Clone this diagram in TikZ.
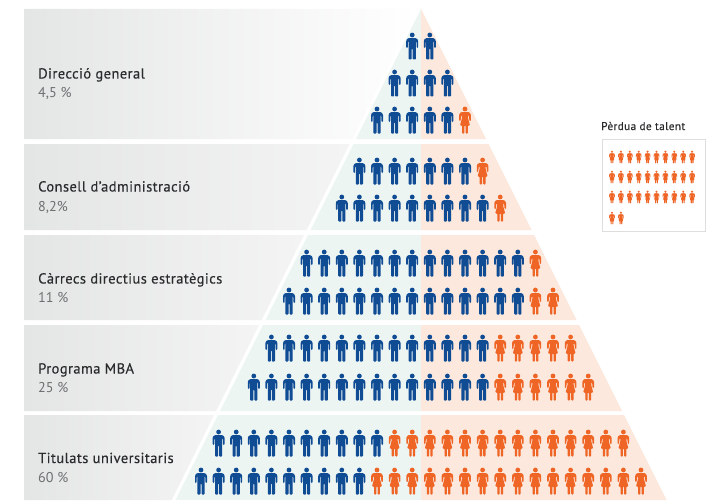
\documentclass[tikz,border=0pt]{standalone}
\usepackage{fontspec}
\setmainfont{PT Sans}
\newfontfamily\titlefont[FakeBold=0.3,LetterSpace=3]{PT Sans}
\newfontfamily\legendfont[FakeBold=0.2,LetterSpace=3.5]{PT Sans}
\definecolor{manblue}{HTML}{0F4C94}
\definecolor{womanor}{HTML}{EE6526}
\definecolor{tealtint}{HTML}{EDF5F3}
\definecolor{ortint}{HTML}{FCE8DC}
\definecolor{bandgrey}{HTML}{E4E5E5}
\definecolor{bandpale}{HTML}{F4F4F4}
\definecolor{pcttext}{HTML}{6E6F71}
\definecolor{titletext}{HTML}{2A2B2D}
\tikzset{
  titlelabel/.style={anchor=base west,inner sep=0pt,font=\titlefont\fontsize{14.5}{16}\selectfont,text=titletext},
  pctlabel/.style={anchor=base west,inner sep=0pt,font=\fontsize{14.2}{16}\selectfont,text=pcttext},
  man/.pic={
    \fill[manblue] (0,-11) circle (2.4);
    \fill[manblue,rounded corners=0.8] (-3.6,-7.8) -- (3.6,-7.8) -- (3.6,13.5) -- (0.5,13.5) -- (0.5,2.5) -- (-0.5,2.5) -- (-0.5,13.5) -- (-3.6,13.5) -- cycle;
    \fill[manblue,rounded corners=1] (-6,-5.8) -- (-4.4,-7.8) -- (4.4,-7.8) -- (6,-5.8) -- (6,2) -- (4.3,2) -- (4.3,-4.5) -- (-4.3,-4.5) -- (-4.3,2) -- (-6,2) -- cycle;
  },
  woman/.pic={
    \fill[womanor] (0,-11) circle (2.4);
    \fill[womanor,rounded corners=0.8] (-3.4,-7.8) -- (3.4,-7.8) -- (3,-2) -- (5,5.5) -- (2.9,5.5) -- (2.9,13.5) -- (0.6,13.5) -- (0.6,5.5) -- (-0.6,5.5) -- (-0.6,13.5) -- (-2.9,13.5) -- (-2.9,5.5) -- (-5,5.5) -- (-3,-2) -- cycle;
    \fill[womanor,rounded corners=0.8] (-5.8,-5.8) -- (-4.2,-7.8) -- (4.2,-7.8) -- (5.8,-5.8) -- (5.8,1) -- (4.4,1) -- (3.9,-4.5) -- (-3.9,-4.5) -- (-4.4,1) -- (-5.8,1) -- cycle;
  },
}
\begin{document}
\begin{tikzpicture}[x=1pt,y=-1pt]
\useasboundingbox (0,0) rectangle (708,500);
\fill[white] (0,0) rectangle (708,500);
% grey bands
\shade[left color=bandgrey,right color=white] (24,9) -- (417,9) -- (352,139) -- (24,139) -- cycle;
\foreach \ya/\yb in {144/230,235/320,325/411,415/500}{
  \pgfmathsetmacro{\xa}{421-0.5*(\ya-9)-4}
  \pgfmathsetmacro{\xb}{421-0.5*(\yb-9)-4}
  \shade[left color=bandgrey,right color=bandpale] (24,\ya) -- (\xa,\ya) -- (\xb,\yb) -- (24,\yb) -- cycle;
}
% pyramid bands
\foreach \ya/\yb in {9/139,144/230,235/320,325/411,415/500}{
  \pgfmathsetmacro{\xa}{0.5*(\ya-9)}
  \pgfmathsetmacro{\xb}{0.5*(\yb-9)}
  \fill[tealtint] (421-\xa,\ya) -- (421,\ya) -- (421,\yb) -- (421-\xb,\yb) -- cycle;
  \fill[ortint] (421+\xa,\ya) -- (421,\ya) -- (421,\yb) -- (421+\xb,\yb) -- cycle;
}
% people: y / first x / blue count / orange count
\foreach \py/\px/\nb/\no in {46/412.2/2/0,83/394.6/4/0,120/377/5/1,171/359.4/7/1,208/341.8/9/1,263/306.6/13/1,301/289/14/2,348/271.4/13/5,387/253.8/14/6,443/218.6/10/14,481/201/10/16}{
  \foreach \i in {1,...,\nb}{
    \pic at ({\px+(\i-1)*17.6},\py) {man};
  }
  \ifnum\no>0
    \foreach \j in {1,...,\no}{
      \pic at ({\px+(\nb+\j-1)*17.6},\py) {woman};
    }
  \fi
}
% labels
\node[titlelabel] (t1) at (38,78.5) {Direcció general};
\node[pctlabel] (p1) at (38,98) {4,5 \%};
\node[titlelabel] (t2) at (38,191.5) {Consell d’administració};
\node[pctlabel] (p2) at (38,211) {8,2\%};
\node[titlelabel] (t3) at (38,283.5) {Càrrecs directius estratègics};
\node[pctlabel] (p3) at (38,302) {11 \%};
\node[titlelabel] (t4) at (38,373.5) {Programa MBA};
\node[pctlabel] (p4) at (38,392.5) {25 \%};
\node[titlelabel] (t5) at (38,463) {Titulats universitaris};
\node[pctlabel] (p5) at (38,482.5) {60 \%};
% legend
\node[anchor=base west,inner sep=0pt,font=\legendfont\fontsize{11.2}{13}\selectfont,text=titletext] (lt) at (601,130) {Pèrdua de talent};
\draw[draw=black!13,line width=1pt,fill=white] (602,139.5) rectangle (705,231);
\foreach \py in {157,177,197}{
  \foreach \k in {0,...,9}{
    \pic[scale=0.48] at ({612+\k*8.9},\py) {woman};
  }
}
\foreach \k in {0,1}{
  \pic[scale=0.48] at ({612+\k*8.9},218) {woman};
}
\end{tikzpicture}
\end{document}
